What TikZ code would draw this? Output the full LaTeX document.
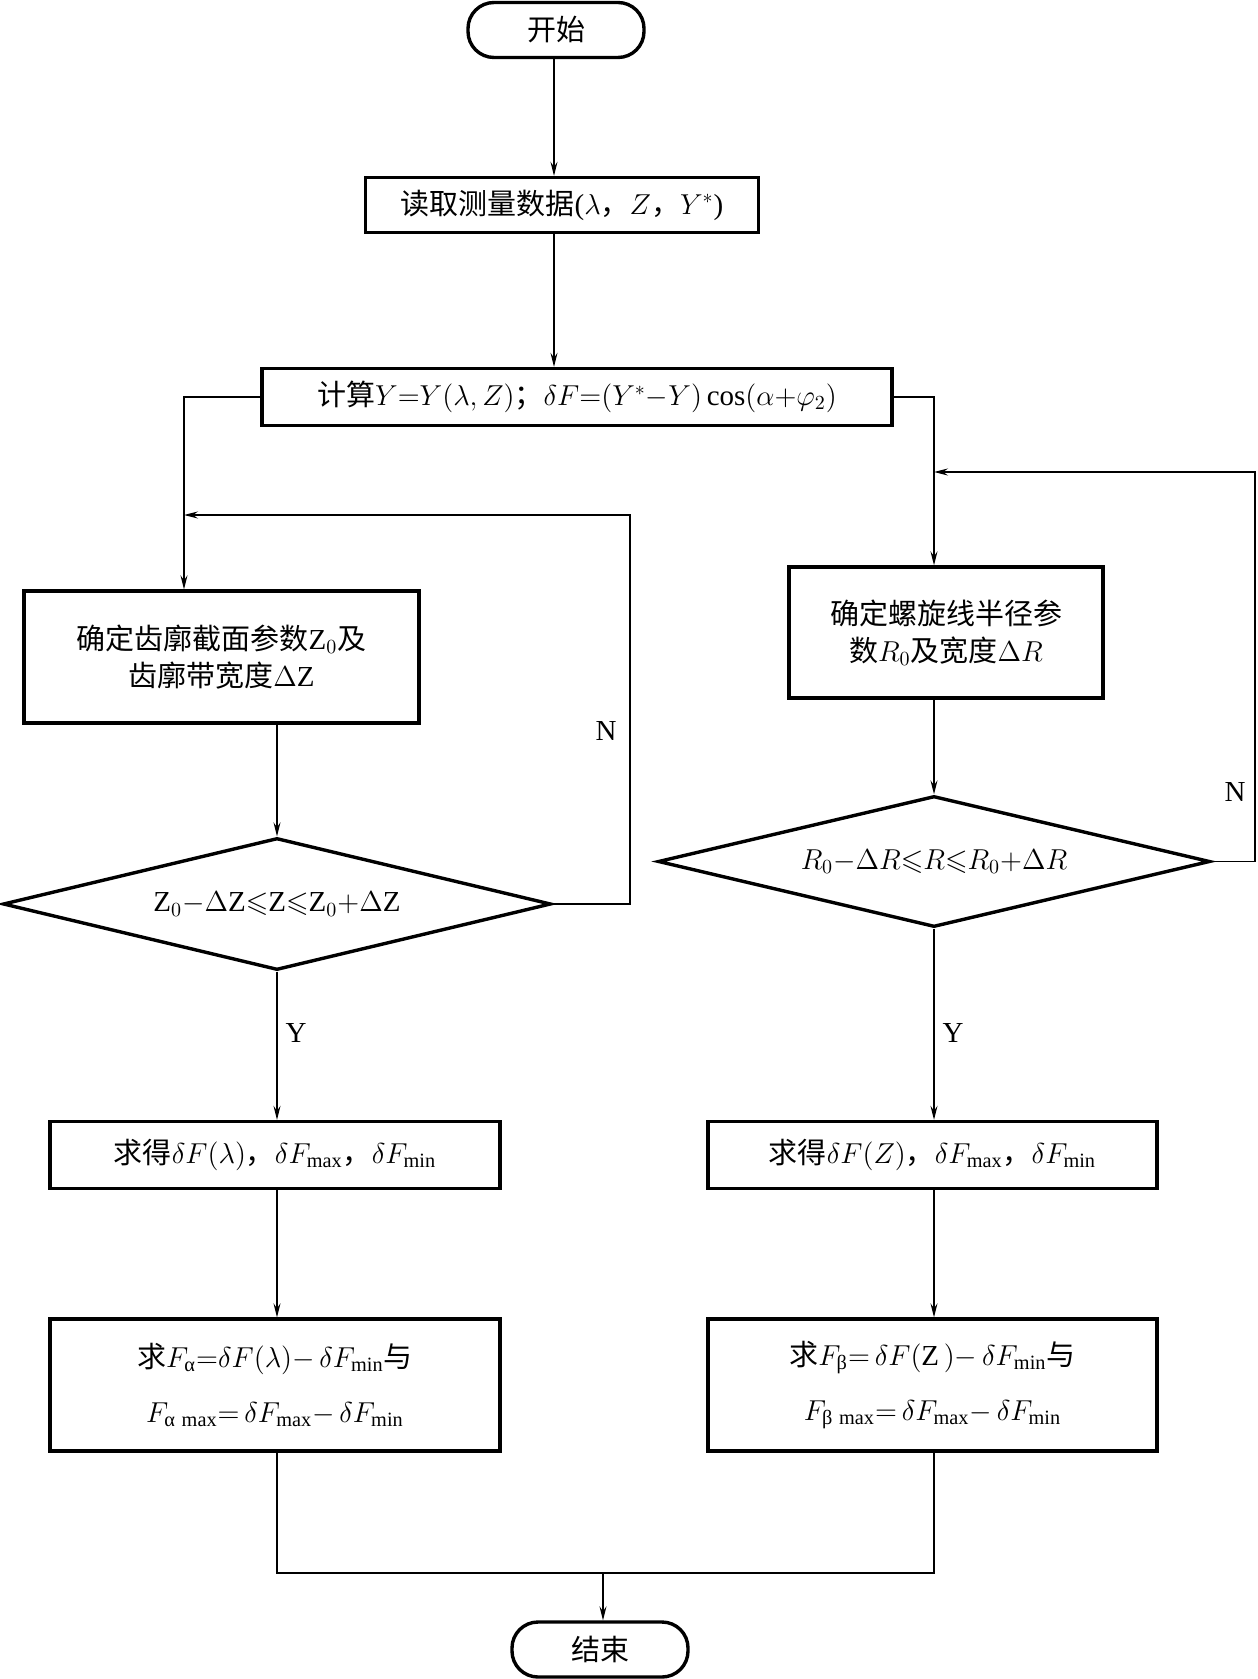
\documentclass[tikz,border=0pt]{standalone}
\usepackage{fontspec}
\usepackage{amsmath,amssymb}
\setmainfont{Liberation Serif}
\newfontfamily\zh{Noto Sans CJK SC}
\usetikzlibrary{shapes.geometric,arrows.meta}

\begin{document}
\begin{tikzpicture}
  [x=0.5pt, y=-0.5pt,
   process/.style = {draw, line width=1.7pt, align=center, inner sep=0pt},
   decision/.style = {draw, diamond, aspect=4.2, line width=1.7pt, inner sep=0pt},
   terminal/.style = {draw, line width=1.7pt, rounded corners=13pt,
                      minimum width=88pt, minimum height=27.5pt},
   link/.style = {line width=0.6pt},
   flow/.style = {link, -{Stealth[length=7pt,width=3.5pt,inset=2.5pt]}},
   every node/.style = {font=\fontsize{14.5}{18.5}\selectfont}]

\useasboundingbox (0,0) rectangle (1257,1679);

% Columns
\coordinate (mcol) at (554,0);
\coordinate (lcol) at (184,0);
\coordinate (rcol) at (934,0);
\coordinate (lloop) at (630,515);
\coordinate (rloop) at (1255,472);
\coordinate (merge) at (603,1573);

% Top
\node[terminal] (start) at (556,30) {\zh 开始};
\node[process, minimum width=196.5pt, minimum height=27.5pt] (read) at (562,205)
  {{\zh 读取测量数据}($\lambda${\zh ，}$Z${\zh ，}$Y^*$)};
\node[process, minimum width=315pt, minimum height=28.5pt] (calc) at (577,397)
  {{\zh 计算}$Y{=}Y(\lambda,Z)${\zh ；}$\delta F{=}(Y^*{-}Y)\cos(\alpha{+}\varphi_2)$};

% Left branch
\node[process, minimum width=197.5pt, minimum height=66pt] (lbox) at (221.5,657)
  {{\zh 确定齿廓截面参数}$\mathrm{Z}_0${\zh 及}\\{\zh 齿廓带宽度}$\Delta \mathrm{Z}$};
\node[decision, minimum width=274pt, minimum height=66pt] (ldec) at (277,904)
  {$\mathrm{Z}_0{-}\Delta \mathrm{Z}{\leqslant}\mathrm{Z}{\leqslant}\mathrm{Z}_0{+}\Delta \mathrm{Z}$};
\node[process, minimum width=225pt, minimum height=33.5pt] (lres) at (275,1155)
  {{\zh 求得}$\delta F(\lambda)${\zh ，}$\delta F_{\max}${\zh ，}$\delta F_{\min}$};
\node[process, minimum width=225pt, minimum height=66pt] (lout) at (275,1385)
  {{\zh 求}$F_{\text{α}}{=}\delta F(\lambda){-}\,\delta F_{\min}${\zh 与}\\[9pt]
   $F_{\text{α}\,\max}{=}\,\delta F_{\max}{-}\,\delta F_{\min}$};

% Right branch
\node[process, minimum width=157pt, minimum height=65.5pt] (rbox) at (946,632.5)
  {{\zh 确定螺旋线半径参}\\{\zh 数}$R_0${\zh 及宽度}$\Delta R$};
\node[decision, minimum width=276pt, minimum height=65.5pt] (rdec) at (934,861.5)
  {$R_0{-}\Delta R{\leqslant}R{\leqslant}R_0{+}\Delta R$};
\node[process, minimum width=224.5pt, minimum height=33.5pt] (rres) at (932.5,1155)
  {{\zh 求得}$\delta F(Z)${\zh ，}$\delta F_{\max}${\zh ，}$\delta F_{\min}$};
\node[process, minimum width=224.5pt, minimum height=66pt] (rout) at (932.5,1385)
  {{\zh 求}$F_{\text{β}}{=}\,\delta F(\mathrm{Z}\,){-}\,\delta F_{\min}${\zh 与}\\[9pt]
   $F_{\text{β}\,\max}{=}\,\delta F_{\max}{-}\,\delta F_{\min}$};

% Bottom
\node[terminal] (stop) at (600,1649.5) {\zh 结束};

% Labels
\node (lno) at (606,731) {N};
\node (lyes) at (296,1033) {Y};
\node (rno) at (1235,792) {N};
\node (ryes) at (953,1033) {Y};

% Main line
\draw[flow] (mcol |- start.south) -- (mcol |- read.north);
\draw[flow] (mcol |- read.south) -- (mcol |- calc.north);

% Left connectors
\draw[flow] (calc.west) -| (lcol |- lbox.north);
\draw[flow] (ldec.east) -| (lloop) -- (lcol |- lloop);
\draw[flow] (ldec.north |- lbox.south) -- (ldec.north);
\draw[flow] (ldec.south) -- (ldec.south |- lres.north);
\draw[flow] (ldec.south |- lres.south) -- (ldec.south |- lout.north);

% Right connectors
\draw[flow] (calc.east) -| (rcol |- rbox.north);
\draw[flow] (rdec.east) -| (rloop) -- (rcol |- rloop);
\draw[flow] (rdec.north |- rbox.south) -- (rdec.north);
\draw[flow] (rdec.south) -- (rdec.south |- rres.north);
\draw[flow] (rdec.south |- rres.south) -- (rdec.south |- rout.north);

% Merge
\draw[link] (ldec.south |- lout.south) -- (ldec.south |- merge)
  -- (rdec.south |- merge) -- (rdec.south |- rout.south);
\draw[flow] (merge) -- (merge |- stop.north);

\end{tikzpicture}
\end{document}
